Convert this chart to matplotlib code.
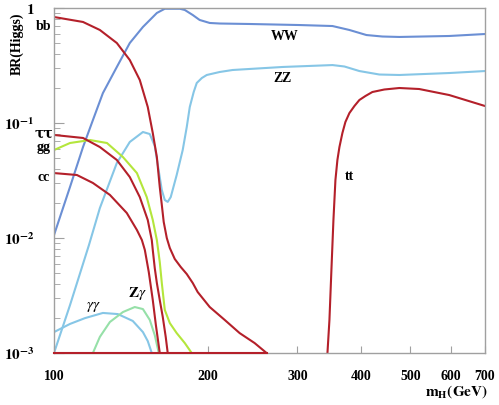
import matplotlib
matplotlib.use("Agg")
import matplotlib.pyplot as plt
from matplotlib.ticker import LogLocator, NullFormatter, FixedLocator

plt.rcParams['mathtext.fontset'] = 'stix'
plt.rcParams['font.family'] = ['Liberation Serif', 'DejaVu Serif']

# ---- data (m_H in GeV, branching ratio) ----
bb_m = [100, 114.0, 123.0, 132.8, 140.8, 147.3, 152.7, 156.2, 159.1, 161.2, 162.7, 164.1, 166.4,
        168.7, 172.5, 177.2, 182.1, 187.1, 191.3, 202, 216.1, 231.2, 247.4, 261.1]
bb_br = [0.835, 0.756, 0.644, 0.496, 0.353, 0.2366, 0.1378, 0.0818, 0.0506, 0.0278, 0.0194, 0.0138,
         0.0100, 0.00818, 0.00657, 0.0056, 0.00486, 0.00406, 0.00339, 0.00251, 0.00194, 0.00149,
         0.00122, 0.001]

tau_m = [100, 114.0, 123.0, 132.8, 140.8, 147.3, 152.7, 155.5, 156.2, 157.6, 159.1, 161.2, 163.4,
         165.6, 167.1]
tau_br = [0.0787, 0.0741, 0.0618, 0.0477, 0.0339, 0.0227, 0.01434, 0.0096, 0.00787, 0.00548,
          0.00406, 0.00289, 0.00206, 0.00138, 0.001]

cc_m = [100, 110.9, 119.2, 128.7, 138.9, 145.4, 148.7, 150.7, 153.4, 156.2, 158.4, 161.2]
cc_br = [0.0367, 0.0353, 0.0301, 0.0237, 0.0165, 0.01174, 0.0096, 0.00787, 0.00506, 0.00289,
         0.00175, 0.001]

gg_m = [100, 107.5, 117.6, 127.0, 136.5, 145.4, 152.0, 156.2, 159.1, 161.2, 162.7, 164.9, 168.7,
        174.0, 180.5, 186.2]
gg_br = [0.0582, 0.0670, 0.0711, 0.0670, 0.0506, 0.0367, 0.0227, 0.01434, 0.0096, 0.00618, 0.00406,
         0.00237, 0.00182, 0.00149, 0.00122, 0.001]

ww_m = [100, 107.5, 114.0, 119.2, 124.7, 132.8, 140.8, 149.4, 159.1, 164.9, 176.5, 180.5, 187.1,
        193.0, 202, 211.3, 241.8, 302.9, 351.6, 379.5, 409.8, 440.4, 475.5, 595.7, 700]
ww_br = [0.0106, 0.0278, 0.0618, 0.106, 0.182, 0.307, 0.496, 0.684, 0.905, 0.985, 0.985, 0.961,
         0.869, 0.787, 0.741, 0.733, 0.726, 0.711, 0.697, 0.644, 0.582, 0.565, 0.560, 0.571, 0.594]

zz_m = [100, 107.5, 117.1, 123.0, 132.8, 140.8, 149.4, 154.1, 157.6, 159.8, 162.7, 164.9, 167.1,
        169.4, 174.0, 178.8, 182.1, 184.6, 187.9, 190.5, 194.9, 199.3, 211.3, 224.0, 280.6, 351.6,
        371.1, 397, 434.5, 475.5, 595.7, 700]
zz_br = [0.001, 0.00261, 0.00869, 0.0182, 0.0449, 0.0684, 0.0835, 0.0802, 0.0631, 0.0431, 0.0261,
         0.0214, 0.0206, 0.0227, 0.0353, 0.0582, 0.0923, 0.1378, 0.186, 0.2228, 0.246, 0.2615,
         0.2777, 0.289, 0.307, 0.319, 0.310, 0.283, 0.264, 0.2615, 0.272, 0.283]

tt_m = [343.7, 346.8, 349.9, 353.1, 356.3, 359.5, 362.8, 367.7, 372.7, 379.5, 388.2, 397, 408.0,
        421, 444.4, 475.5, 520, 595.7, 700]
tt_br = [0.001, 0.00194, 0.00527, 0.0143, 0.0319, 0.0477, 0.0618, 0.0818, 0.102, 0.122, 0.1405,
         0.1585, 0.1717, 0.186, 0.1956, 0.2015, 0.1975, 0.175, 0.1405]

gamgam_m = [100, 107.5, 115.0, 124.7, 133.4, 142.7, 149.4, 152.7, 155.5]
gamgam_br = [0.00152, 0.00179, 0.00201, 0.00223, 0.00218, 0.0019, 0.00152, 0.00127, 0.001]

zgam_m = [119.2, 123.0, 128.7, 136.5, 144.0, 149.4, 154.1, 157.6, 160.5]
zgam_br = [0.001, 0.00138, 0.00186, 0.00227, 0.00251, 0.00241, 0.00194, 0.00143, 0.001]

floor_m = [100, 261.1]
floor_br = [0.001, 0.001]

x_ticks = [100, 200, 300, 400, 500, 600, 700]
x_ticklabels = ['100', '200', '300', '400', '500', '600', '700']
y_ticks = [0.001, 0.01, 0.1, 1]
y_ticklabels = [r'$\mathbf{10^{-3}}$', r'$\mathbf{10^{-2}}$', r'$\mathbf{10^{-1}}$', r'$\mathbf{1}$']

RED = '#b4202a'
BLUE = '#6b8fd4'
LBLUE = '#86c6e6'
YGREEN = '#b4e63c'
LGREEN = '#96e0a8'

fig = plt.figure(figsize=(4.99, 4.05), dpi=100)
fig.patch.set_facecolor('white')
ax = fig.add_axes([54/499, 1-353/405, (485-54)/499, (353-8)/405])

lw = 1.5
kw = dict(lw=lw, solid_joinstyle='round', solid_capstyle='round')
ax.plot(ww_m, ww_br, color=BLUE, **kw)
ax.plot(zz_m, zz_br, color=LBLUE, **kw)
ax.plot(gamgam_m, gamgam_br, color=LBLUE, **kw)
ax.plot(zgam_m, zgam_br, color=LGREEN, **kw)
ax.plot(gg_m, gg_br, color=YGREEN, **kw)
ax.plot(bb_m, bb_br, color=RED, **kw)
ax.plot(tau_m, tau_br, color=RED, **kw)
ax.plot(cc_m, cc_br, color=RED, **kw)
ax.plot(tt_m, tt_br, color=RED, **kw)
ax.plot(floor_m, floor_br, color=RED, lw=lw, clip_on=False, zorder=5)

ax.set_xscale('log')
ax.set_yscale('log')
ax.set_xlim(100, 700)
ax.set_ylim(0.001, 1)

ax.xaxis.set_major_locator(FixedLocator(x_ticks))
ax.xaxis.set_minor_locator(FixedLocator([]))
ax.set_xticklabels(x_ticklabels, fontweight='bold', fontsize=10)
ax.set_yticks(y_ticks)
ax.set_yticklabels(y_ticklabels, fontsize=11)
ax.yaxis.set_minor_locator(LogLocator(base=10, subs=range(2, 10)))
ax.yaxis.set_minor_formatter(NullFormatter())

for s in ax.spines.values():
    s.set_color('#a0a0a0')
    s.set_linewidth(1.0)
ax.tick_params(axis='both', which='both', direction='in', color='#a0a0a0')
ax.tick_params(axis='x', which='major', length=5, pad=12)
ax.tick_params(axis='y', which='major', length=7, pad=14)
ax.tick_params(axis='y', which='minor', length=4)


def ftext(x, y, s, size=10, **kw):
    fig.text(x/499, 1-y/405, s, ha='center', va='center', fontweight='bold', fontsize=size, **kw)


ftext(17, 44, 'BR(Higgs)', rotation=90)
ftext(44, 27, 'bb')
ftext(44, 134, 'ττ', family=['DejaVu Serif'])
ftext(44, 148, 'gg')
ftext(44, 177, 'cc')

ftext(285, 36, 'WW')
ftext(282, 79, 'ZZ')
ftext(349, 176, 'tt')
fig.text(93/499, 1-307/405, r'$\gamma\gamma$', ha='center', va='center', fontsize=11)
fig.text(137/499, 1-294/405, r'$\mathbf{Z}\gamma$', ha='center', va='center', fontsize=11)
fig.text(457/499, 1-392/405, r'$\mathbf{m_H(GeV)}$', ha='center', va='center', fontsize=11)

fig.savefig('out.png', dpi=100, facecolor='white')
